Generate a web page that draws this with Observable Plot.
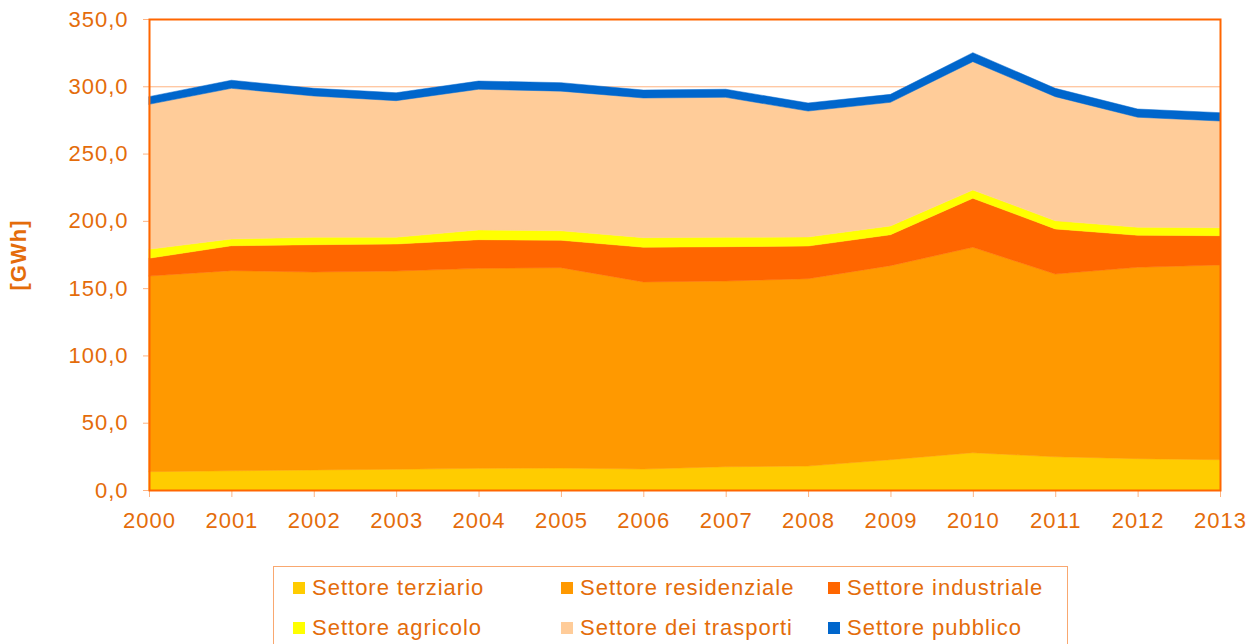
<!DOCTYPE html>
<html>
<head>
<meta charset="utf-8">
<script src="https://cdn.jsdelivr.net/npm/d3@7"></script>
<script src="https://cdn.jsdelivr.net/npm/@observablehq/plot@0.6"></script>
<style>
  html, body { margin: 0; padding: 0; overflow: hidden; background: #fff; }
  body { width: 1257px; height: 644px; position: relative; font-family: "Liberation Sans", Arial, sans-serif; }
  #chart { position: absolute; left: 0; top: 0; }
  #chart svg text { letter-spacing: 1px; }
  #legend { position: absolute; left: 273px; top: 566px; width: 795px; height: 100px; border: 1px solid #F9A870; box-sizing: border-box; }
  .item { position: absolute; display: flex; align-items: center; font-size: 22px; letter-spacing: 1px; color: #E46C0A; white-space: nowrap; }
  .sw { width: 12px; height: 12px; margin-right: 7px; flex: none; }
</style>
</head>
<body>
<div id="chart"></div>
<div id="legend"></div>
<script>
const years = [2000, 2001, 2002, 2003, 2004, 2005, 2006, 2007, 2008, 2009, 2010, 2011, 2012, 2013];
const terziario    = [13.6, 14.3, 14.9, 15.4, 16.1, 16.3, 15.6, 17.3, 17.8, 22.5, 27.7, 24.7, 23.3, 22.5];
const residenziale = [145.4, 148.7, 147.1, 147.3, 148.6, 148.9, 139.0, 138.0, 139.2, 144.2, 152.7, 135.8, 142.2, 144.7];
const industriale  = [13.2, 18.5, 20.3, 20.1, 21.3, 20.4, 25.8, 25.5, 24.3, 23.0, 36.4, 33.5, 23.8, 21.8];
const agricolo     = [6.7, 5.0, 5.5, 5.0, 7.2, 7.0, 7.1, 7.0, 6.7, 6.5, 6.1, 6.1, 5.9, 5.9];
const trasporti    = [107.7, 112.0, 105.0, 101.5, 104.6, 103.8, 103.8, 104.0, 93.6, 91.9, 95.4, 92.2, 81.8, 79.3];
const pubblico     = [5.7, 6.0, 5.7, 5.9, 6.1, 6.3, 5.9, 6.0, 6.0, 5.9, 6.7, 6.2, 6.1, 6.2];

const seriesNames = ["Settore terziario", "Settore residenziale", "Settore industriale", "Settore agricolo", "Settore dei trasporti", "Settore pubblico"];
const seriesColors = ["#FFCC00", "#FF9900", "#FF6600", "#FFFF00", "#FFCC99", "#0066CC"];
const seriesValues = [terziario, residenziale, industriale, agricolo, trasporti, pubblico];
const yTicks = [0, 50, 100, 150, 200, 250, 300, 350];

const data = [];
seriesNames.forEach((name, i) => {
  years.forEach((yr, j) => data.push({year: yr, value: seriesValues[i][j], series: name}));
});

const textColor = "#E46C0A";
const fmt = d => d.toFixed(1).replace(".", ",");

const chart = Plot.plot({
  width: 1257,
  height: 555,
  marginLeft: 149,
  marginRight: 37,
  marginTop: 19,
  marginBottom: 65,
  style: {fontFamily: "'Liberation Sans', Arial, sans-serif", fontSize: "22px", color: textColor, background: "transparent"},
  x: {domain: [2000, 2013]},
  y: {domain: [0, 350]},
  color: {domain: seriesNames, range: seriesColors},
  marks: [
    Plot.ruleY(yTicks, {stroke: "#FFB380", strokeWidth: 1}),
    Plot.areaY(data, {x: "year", y: "value", fill: "series", stroke: "series", strokeWidth: 0.5}),
    Plot.axisX({ticks: years, tickFormat: d => String(d), tickSize: 7, tickPadding: 15, stroke: "#FFB380", fill: textColor, label: null, fontSize: 22}),
    Plot.axisY({ticks: yTicks, tickFormat: fmt, tickSize: 6, tickPadding: 15, stroke: "#FFB380", fill: textColor, fontSize: 22,
      label: "[GWh]", labelAnchor: "center", labelArrow: "none", labelOffset: 139}),
    Plot.frame({stroke: "#FF6600", strokeWidth: 2})
  ]
});
document.getElementById("chart").appendChild(chart);
// bold y label
chart.querySelectorAll("text").forEach(t => {
  if (t.textContent.trim() === "[GWh]") { t.setAttribute("font-weight", "bold"); t.setAttribute("font-size", "22"); }
});

const legend = document.getElementById("legend");
const colX = [19, 287, 554];
const rowY = [8, 48];
seriesNames.forEach((name, k) => {
  const div = document.createElement("div");
  div.className = "item";
  div.style.left = colX[k % 3] + "px";
  div.style.top = rowY[Math.floor(k / 3)] + "px";
  div.innerHTML = `<span class="sw" style="background:${seriesColors[k]}"></span><span>${name}</span>`;
  legend.appendChild(div);
});
</script>
</body>
</html>
